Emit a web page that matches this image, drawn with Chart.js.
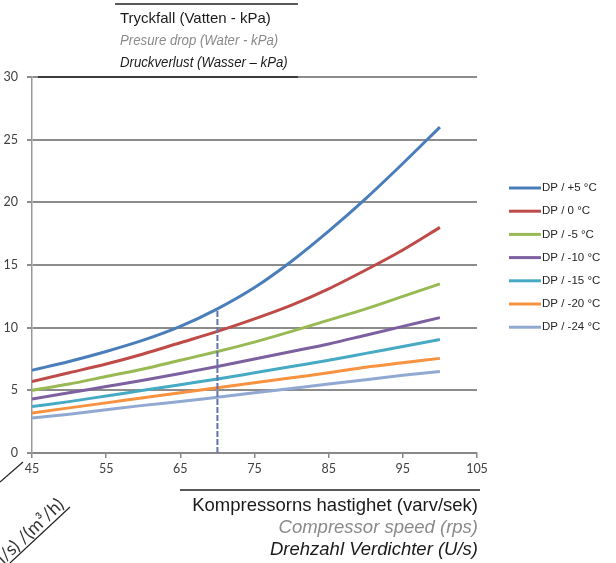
<!DOCTYPE html>
<html>
<head>
<meta charset="utf-8">
<script src="https://cdn.jsdelivr.net/npm/chart.js@4"></script>
<style>
html,body{margin:0;padding:0;background:#fff;}
#wrap{position:relative;width:616px;height:563px;}
</style>
</head>
<body>
<div id="wrap"><canvas id="c" width="616" height="563"></canvas></div>
<script>
// ---- data ----
const xValues = [45, 50, 55, 60, 65, 70, 75, 80, 85, 90, 95, 100];
const dpPlus5  = [6.6, 7.3, 8.1, 9.0, 10.1, 11.5, 13.2, 15.3, 17.7, 20.3, 23.1, 26.0];
const dp0      = [5.7, 6.4, 7.1, 7.9, 8.8, 9.7, 10.7, 11.8, 13.1, 14.6, 16.2, 18.0];
const dpMinus5 = [5.0, 5.5, 6.1, 6.7, 7.4, 8.1, 8.85, 9.7, 10.6, 11.5, 12.5, 13.5];
const dpMinus10 = [4.3, 4.8, 5.3, 5.8, 6.35, 6.9, 7.5, 8.1, 8.7, 9.4, 10.1, 10.8];
const dpMinus15 = [3.7, 4.1, 4.55, 5.0, 5.45, 5.9, 6.4, 6.9, 7.4, 7.95, 8.5, 9.05];
const dpMinus20 = [3.2, 3.6, 4.0, 4.4, 4.8, 5.2, 5.6, 6.0, 6.4, 6.85, 7.2, 7.55];
const dpMinus24 = [2.8, 3.1, 3.45, 3.8, 4.1, 4.45, 4.8, 5.15, 5.5, 5.85, 6.2, 6.5];
const seriesLabels = ['DP / +5 °C', 'DP / 0 °C', 'DP / -5 °C', 'DP / -10 °C', 'DP / -15 °C', 'DP / -20 °C', 'DP / -24 °C'];
const xTickValues = [45, 55, 65, 75, 85, 95, 105];
const yTickValues = [0, 5, 10, 15, 20, 25, 30];
const markerSpeed = 70;
const titleLines = ['Tryckfall (Vatten - kPa)', 'Presure drop (Water - kPa)', 'Druckverlust (Wasser – kPa)'];
const xTitleLines = ['Kompressorns hastighet (varv/sek)', 'Compressor speed (rps)', 'Drehzahl Verdichter (U/s)'];
const flowLabel = '(l/s) /(m³/h)';

// ---- styles ----
const seriesColors = ['#4a7ebb', '#be4b48', '#98b954', '#7d60a0', '#46aac5', '#f69240', '#91a9d2'];
const allSeries = [dpPlus5, dp0, dpMinus5, dpMinus10, dpMinus15, dpMinus20, dpMinus24];

const datasets = allSeries.map((s, i) => ({
  label: seriesLabels[i],
  data: xValues.map((x, j) => ({x: x, y: s[j]})),
  borderColor: seriesColors[i],
  backgroundColor: seriesColors[i],
  borderWidth: 3,
  pointRadius: 0,
  tension: 0.4,
  cubicInterpolationMode: 'monotone',
  fill: false,
  order: i + 1
}));
const markerY = dpPlus5[xValues.indexOf(markerSpeed)];
datasets.push({
  label: '',
  isMarker: true,
  data: [{x: markerSpeed, y: 0}, {x: markerSpeed, y: markerY}],
  borderColor: '#6274ab',
  borderWidth: 2,
  borderDash: [6, 2],
  pointRadius: 0,
  fill: false,
  order: 0
});

function scaledText(ctx, text, x, y, sx) {
  ctx.save();
  ctx.translate(x, y);
  ctx.scale(sx, 1);
  ctx.fillText(text, 0, 0);
  ctx.restore();
}

const overlay = {
  id: 'overlay',
  afterDraw(chart) {
    const ctx = chart.ctx;
    ctx.save();
    // Title block
    ctx.strokeStyle = '#222';
    ctx.lineWidth = 1.5;
    ctx.beginPath(); ctx.moveTo(115, 4); ctx.lineTo(298, 4); ctx.stroke();
    ctx.beginPath(); ctx.moveTo(38, 77); ctx.lineTo(298, 77); ctx.stroke();
    ctx.textBaseline = 'middle';
    ctx.textAlign = 'left';
    ctx.font = '15px "Liberation Sans", Arial, sans-serif';
    ctx.fillStyle = '#1a1a1a';
    ctx.fillText(titleLines[0], 120, 19);
    ctx.font = 'italic 15px "Liberation Sans", Arial, sans-serif';
    ctx.fillStyle = '#8a8a8a';
    scaledText(ctx, titleLines[1], 120, 41, 0.88);
    ctx.fillStyle = '#1a1a1a';
    scaledText(ctx, titleLines[2], 120, 63, 0.88);

    // X title block
    ctx.beginPath(); ctx.moveTo(180, 490); ctx.lineTo(480, 490); ctx.stroke();
    ctx.textAlign = 'right';
    ctx.font = '18.5px "Liberation Sans", Arial, sans-serif';
    ctx.fillStyle = '#1a1a1a';
    ctx.fillText(xTitleLines[0], 478, 506);
    ctx.font = 'italic 18.5px "Liberation Sans", Arial, sans-serif';
    ctx.fillStyle = '#8a8a8a';
    ctx.fillText(xTitleLines[1], 478, 528);
    ctx.fillStyle = '#1a1a1a';
    ctx.fillText(xTitleLines[2], 478, 550);

    // Diagonal flow label
    ctx.lineWidth = 1.2;
    ctx.strokeStyle = '#222';
    ctx.beginPath(); ctx.moveTo(0, 482); ctx.lineTo(23, 462); ctx.stroke();
    ctx.beginPath(); ctx.moveTo(10, 563); ctx.lineTo(70, 507); ctx.stroke();
    ctx.save();
    ctx.translate(65, 506);
    ctx.rotate(-0.76);
    ctx.textAlign = 'right';
    ctx.textBaseline = 'alphabetic';
    ctx.font = '18px Lato, "Liberation Sans", sans-serif';
    ctx.fillStyle = '#333';
    ctx.fillText(flowLabel, 0, 0);
    ctx.restore();

    // Legend
    ctx.textAlign = 'left';
    ctx.textBaseline = 'middle';
    ctx.font = '11.5px "Liberation Sans", Arial, sans-serif';
    let k = 0;
    chart.data.datasets.forEach(ds => {
      if (ds.isMarker) return;
      const y = 188 + k * 23.2;
      ctx.strokeStyle = ds.borderColor;
      ctx.lineWidth = 3;
      ctx.beginPath(); ctx.moveTo(509, y); ctx.lineTo(541, y); ctx.stroke();
      ctx.fillStyle = '#262626';
      ctx.fillText(ds.label, 542, y);
      k++;
    });
    ctx.restore();
  }
};

new Chart(document.getElementById('c'), {
  type: 'line',
  data: { datasets: datasets },
  options: {
    responsive: false,
    animation: false,
    events: [],
    layout: { padding: { left: 0, top: 77, right: 139, bottom: 0 } },
    plugins: { legend: { display: false }, tooltip: { enabled: false } },
    scales: {
      x: {
        type: 'linear',
        min: 45, max: 105,
        afterBuildTicks: s => { s.ticks = xTickValues.map(v => ({value: v})); },
        afterFit: s => { s.height = 110; },
        grid: { display: true, drawOnChartArea: false, drawTicks: true, tickLength: 5, color: '#888', lineWidth: 1.5 },
        border: { display: true, color: '#888', width: 1.5 },
        ticks: { color: '#404040', font: { family: 'Lato', size: 12.5 }, padding: 3, maxRotation: 0 }
      },
      y: {
        min: 0, max: 30,
        afterBuildTicks: s => { s.ticks = yTickValues.map(v => ({value: v})); },
        afterFit: s => { s.width = 32; },
        grid: { display: true, drawTicks: true, tickLength: 5, color: '#8c8c8c', lineWidth: 2 },
        border: { display: true, color: '#999', width: 1.5 },
        ticks: { color: '#404040', font: { family: 'Lato', size: 12.5 }, padding: 9 }
      }
    }
  },
  plugins: [overlay]
});
</script>
</body>
</html>
